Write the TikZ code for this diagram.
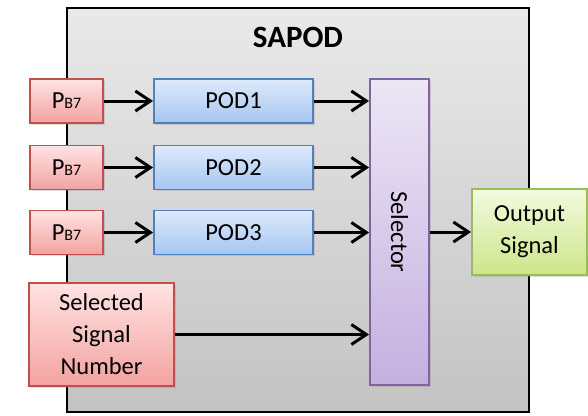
\documentclass[tikz,border=0pt]{standalone}
\usepackage{fontspec}
\setmainfont{Carlito}
\usetikzlibrary{arrows.meta,shadows}
\definecolor{redline}{HTML}{C0504D}
\definecolor{redtop}{HTML}{FFE3E3}
\definecolor{redbot}{HTML}{F2A2A0}
\definecolor{blueline}{HTML}{4F81BD}
\definecolor{bluetop}{HTML}{DDEAFB}
\definecolor{bluebot}{HTML}{A6C6F0}
\definecolor{purpline}{HTML}{8064A2}
\definecolor{purptop}{HTML}{ECE6F5}
\definecolor{purpbot}{HTML}{C4B0E0}
\definecolor{greenline}{HTML}{9BBB59}
\definecolor{greentop}{HTML}{F3FADF}
\definecolor{greenbot}{HTML}{CDE68A}
\tikzset{
  blk/.style={draw, line width=1.8pt, inner sep=2pt, align=center,
    font=\fontsize{24.5}{32}\selectfont,
    drop shadow={shadow xshift=1.5pt, shadow yshift=-1.5pt, opacity=0.25}},
  redbox/.style={blk, draw=redline, top color=redtop, bottom color=redbot},
  bluebox/.style={blk, draw=blueline, top color=bluetop, bottom color=bluebot},
  purpbox/.style={blk, draw=purpline, top color=purptop, bottom color=purpbot},
  greenbox/.style={blk, draw=greenline, top color=greentop, bottom color=greenbot},
  sig/.style={line width=3pt, -{Straight Barb[length=15pt, width=20pt, line width=3pt]}},
}
\newcommand{\pbs}{P{\fontsize{16}{16}\selectfont B7}}
\begin{document}
\begin{tikzpicture}[x=1pt,y=-1pt]
\useasboundingbox (0,0) rectangle (588,415);
% enclosing SAPOD block
\path[draw=black, line width=2.2pt, top color=gray!17, bottom color=gray!47]
  (67,8) rectangle (529,412);
\node[font=\fontsize{31}{36}\selectfont\bfseries] (title) at (298,37) {SAPOD};
% input sources
\node[redbox, minimum width=73pt, minimum height=44pt] (p1) at (66.5,101) {\pbs};
\node[redbox, minimum width=73pt, minimum height=44pt] (p2) at (66.5,167.5) {\pbs};
\node[redbox, minimum width=73pt, minimum height=44pt] (p3) at (66.5,232.5) {\pbs};
\node[redbox, minimum width=145pt, minimum height=103pt] (ssn) at (101.5,334.5) {Selected\\Signal\\Number};
% detectors
\node[bluebox, minimum width=159pt, minimum height=44pt] (pod1) at (233.5,101) {POD1};
\node[bluebox, minimum width=159pt, minimum height=44pt] (pod2) at (233.5,167.5) {POD2};
\node[bluebox, minimum width=159pt, minimum height=44pt] (pod3) at (233.5,232.5) {POD3};
% selector and output
\node[purpbox, minimum width=59pt, minimum height=306pt] (sel) at (399.5,232) {};
\node[rotate=-90, font=\fontsize{24.5}{31}\selectfont] (sellbl) at (sel.center) {Selector};
\node[greenbox, minimum width=115pt, minimum height=86pt] (out) at (529.5,232) {Output\\Signal};
% connections
\draw[sig] (p1) -- (pod1);
\draw[sig] (p2) -- (pod2);
\draw[sig] (p3) -- (pod3);
\draw[sig] (pod1.east) -- (pod1.east -| sel.west);
\draw[sig] (pod2.east) -- (pod2.east -| sel.west);
\draw[sig] (pod3.east) -- (pod3.east -| sel.west);
\draw[sig] (ssn.east) -- (ssn.east -| sel.west);
\draw[sig] (sel) -- (out);
\end{tikzpicture}
\end{document}
